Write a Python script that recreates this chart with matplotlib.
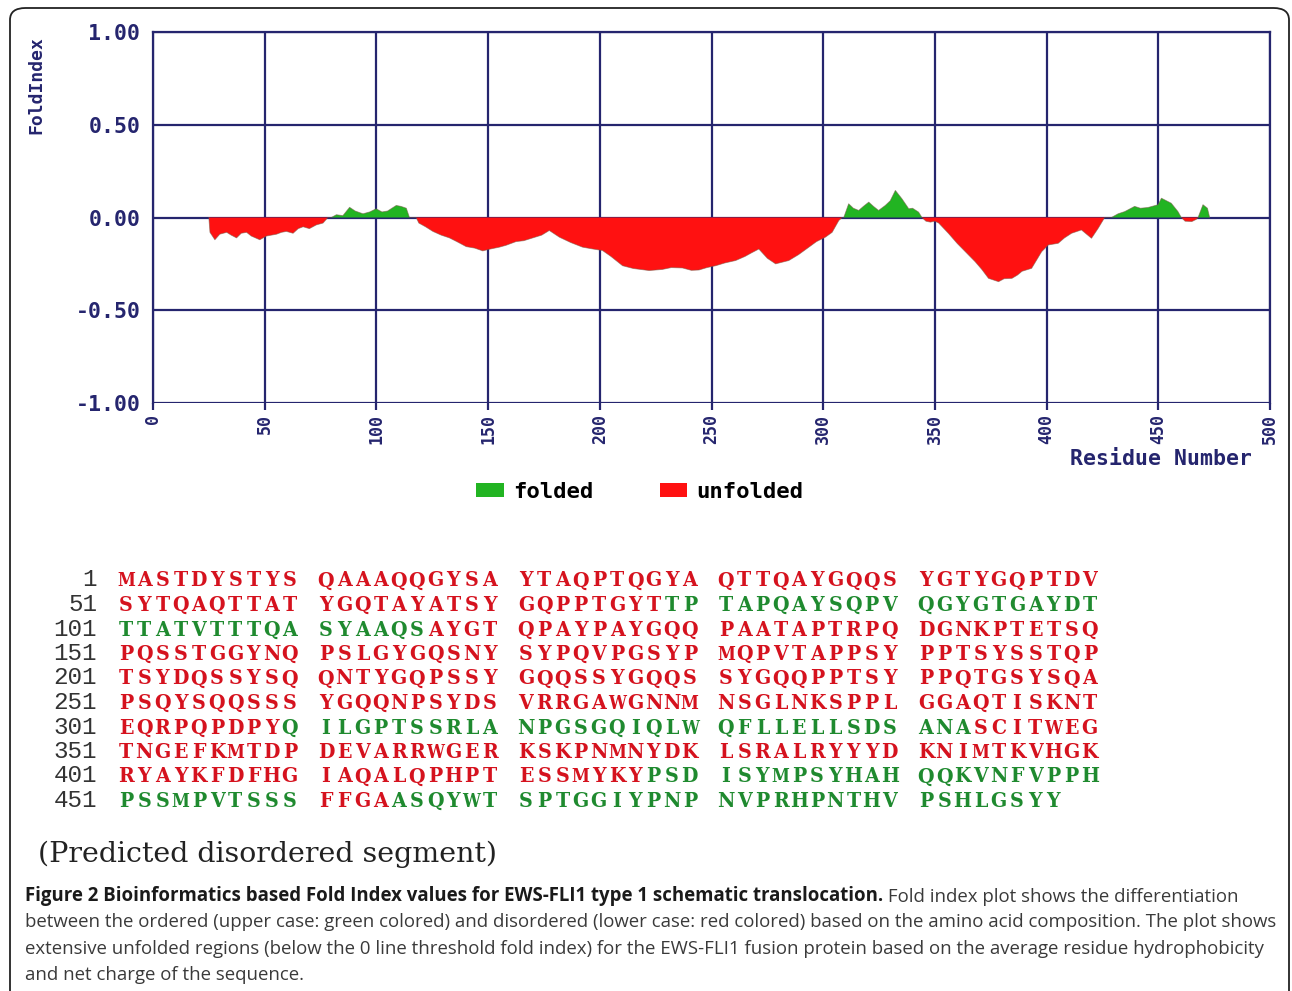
import matplotlib
matplotlib.use('Agg')
import matplotlib.pyplot as plt
from matplotlib.patches import Patch, FancyBboxPatch

W, H = 1292, 991

# --- FoldIndex curve (residue number, fold index) ---
residue = [25, 25.5, 27.7, 29.9, 33, 35, 37.4, 39.5, 41.9, 44, 47.8, 50.8, 53, 55.3, 57.5, 59.7, 62.7, 65, 67.2, 70, 73.1, 76.1, 78.3,
           79.8, 82.1, 85, 88, 90.5, 94, 97, 99.9, 102.5, 105, 108.9, 111, 113.4, 114.8,
           117.8, 119, 122, 125.3, 129, 132.7, 136, 140.2, 144, 147.6, 151, 155, 158, 162.5, 166, 170, 174, 177.4, 181.9, 187,
           192.3, 197, 201.2, 205, 210.2, 215, 222.1, 228, 232, 237, 241, 244.4, 248, 251.9, 256, 260.8, 265, 268, 271.2, 275,
           278.7, 284.6, 289, 293.6, 297, 301, 304, 307, 308.5,
           309.2, 311.4, 313.5, 315.9, 318, 320.4, 322.5, 324.8, 327.8, 330, 332.3, 335.3, 338.3, 340, 342.7, 344.2,
           346, 348, 350, 351.7, 356.1, 360, 363.6, 368, 371, 374, 378.5, 381, 384.5, 387, 389, 393.3, 395.5, 397.8, 400.8, 405.2,
           408, 411.2, 415.6, 420.1, 423.1, 426,
           429, 432, 435, 439.4, 442, 445.4, 449.9, 451.4, 455.8, 458.8, 460.3,
           462, 465, 467, 467.8, 470, 472, 473]
fold_index = [0.0, -0.08, -0.12, -0.09, -0.08, -0.095, -0.11, -0.085, -0.08, -0.10, -0.12, -0.10, -0.095, -0.09, -0.08, -0.075, -0.085, -0.06, -0.05, -0.06, -0.04, -0.03, 0.0,
              0.0, 0.015, 0.01, 0.055, 0.035, 0.02, 0.03, 0.047, 0.03, 0.035, 0.065, 0.06, 0.05, 0.0,
              0.0, -0.03, -0.05, -0.075, -0.095, -0.11, -0.13, -0.157, -0.165, -0.18, -0.17, -0.16, -0.15, -0.13, -0.125, -0.11, -0.095, -0.07, -0.106, -0.135,
              -0.16, -0.17, -0.178, -0.21, -0.26, -0.275, -0.286, -0.28, -0.27, -0.272, -0.285, -0.283, -0.27, -0.26, -0.245, -0.232, -0.21, -0.19, -0.17, -0.22,
              -0.25, -0.232, -0.2, -0.16, -0.13, -0.106, -0.08, -0.016, 0.0,
              0.0, 0.074, 0.05, 0.038, 0.06, 0.083, 0.06, 0.038, 0.065, 0.09, 0.146, 0.10, 0.047, 0.05, 0.029, 0.0,
              -0.02, -0.025, -0.02, -0.03, -0.086, -0.14, -0.184, -0.238, -0.28, -0.328, -0.346, -0.33, -0.328, -0.31, -0.29, -0.274, -0.23, -0.184, -0.148, -0.139,
              -0.11, -0.085, -0.067, -0.112, -0.058, 0.0,
              0.0, 0.02, 0.032, 0.06, 0.05, 0.054, 0.069, 0.104, 0.077, 0.032, 0.0,
              -0.02, -0.022, -0.01, 0.0, 0.069, 0.05, 0.0]

x_ticks = list(range(0, 501, 50))
y_ticks = [1.0, 0.5, 0.0, -0.5, -1.0]
y_tick_labels = ['1.00', '0.50', '0.00', '-0.50', '-1.00']

# --- sequence (EWS-FLI1 type 1), 50 residues per row ---
seq_rows = [
    "MASTDYSTYSQAAAQQGYSAYTAQPTQGYAQTTQAYGQQSYGTYGQPTDV",
    "SYTQAQTTATYGQTAYATSYGQPPTGYTTPTAPQAYSQPVQGYGTGAYDT",
    "TTATVTTTQASYAAQSAYGTQPAYPAYGQQPAATAPTRPQDGNKPTETSQ",
    "PQSSTGGYNQPSLGYGQSNYSYPQVPGSYPMQPVTAPPSYPPTSYSSTQP",
    "TSYDQSSYSQQNTYGQPSSYGQQSSYGQQSSYGQQPPTSYPPQTGSYSQA",
    "PSQYSQQSSSYGQQNPSYDSVRRGAWGNNMNSGLNKSPPLGGAQTISKNT",
    "EQRPQPDPYQILGPTSSRLANPGSGQIQLWQFLLELLSDSANASCITWEG",
    "TNGEFKMTDPDEVARRWGERKSKPNMNYDKLSRALRYYYDKNIMTKVHGK",
    "RYAYKFDFHGIAQALQPHPTESSMYKYPSDISYMPSYHAHQQKVNFVPPH",
    "PSSMPVTSSSFFGAASQYWTSPTGGIYPNPNVPRHPNTHVPSHLGSYY",
]
# ordered (green) stretches, 1-based inclusive
ordered_ranges = [(79, 116), (310, 343), (428, 460), (465, 498)]

caption_bold = "Figure 2 Bioinformatics based Fold Index values for EWS-FLI1 type 1 schematic translocation."
caption_lines = [
    " Fold index plot shows the differentiation",
    "between the ordered (upper case: green colored) and disordered (lower case: red colored) based on the amino acid composition. The plot shows",
    "extensive unfolded regions (below the 0 line threshold fold index) for the EWS-FLI1 fusion protein based on the average residue hydrophobicity",
    "and net charge of the sequence.",
]

navy = '#25256e'
green = '#22b422'
red = '#ff1111'
seq_red = '#d5121e'
seq_green = '#1f8a2f'
mono = 'DejaVu Sans Mono'
# condensed serif; the two widest glyphs a little smaller so they keep to their slot
letter_size = 15.2
wide_sizes = {'M': 13.0, 'W': 12.8}


def fx(x):
    return x / W


def fy(y):
    return 1 - y / H


fig = plt.figure(figsize=(W / 100, H / 100), dpi=100)
fig.patch.set_facecolor('white')

# rounded frame around the whole figure panel
frame = FancyBboxPatch((fx(10), fy(1010)), fx(1279), (1010 - 8) / H,
                       boxstyle='round,pad=0,rounding_size=0.012',
                       transform=fig.transFigure, fill=False,
                       edgecolor='#222222', lw=1.3)
fig.patches.append(frame)

# --- the FoldIndex plot ---
ax = fig.add_axes([fx(153), fy(403), (1270 - 153) / W, (403 - 32) / H])
ax.set_xlim(0, 500)
ax.set_ylim(-1, 1)

ax.fill_between(residue, fold_index, 0, where=[v >= 0 for v in fold_index],
                interpolate=True, color=green, lw=0, zorder=2)
ax.fill_between(residue, fold_index, 0, where=[v <= 0 for v in fold_index],
                interpolate=True, color=red, lw=0, zorder=2)
ax.plot(residue, fold_index, color='#7a5a48', lw=0.6, alpha=0.6, zorder=3)

ax.set_xticks(x_ticks)
ax.set_yticks(y_ticks)
ax.set_yticklabels(y_tick_labels)
ax.grid(True, color=navy, lw=1.6)
for s in ['left', 'top', 'right']:
    ax.spines[s].set_color(navy)
    ax.spines[s].set_linewidth(1.6)
ax.spines['bottom'].set_visible(False)

ax.tick_params(axis='y', length=0, pad=9, labelcolor=navy)
ax.tick_params(axis='x', direction='out', length=5, width=1.6, color=navy,
               pad=3, labelrotation=90, labelcolor=navy)
for lab in ax.get_yticklabels():
    lab.set_fontfamily(mono)
    lab.set_fontweight('bold')
    lab.set_fontsize(15.5)
for lab in ax.get_xticklabels():
    lab.set_fontfamily(mono)
    lab.set_fontweight('bold')
    lab.set_fontsize(12)

ax.set_xlabel('Residue Number', loc='right', family=mono, weight='bold',
              fontsize=15.5, color=navy)
ax.xaxis.set_label_coords((1252 - 153) / (1270 - 153), -0.125)
ax.set_ylabel('FoldIndex', loc='top', family=mono, weight='bold',
              fontsize=13, color=navy)
ax.yaxis.set_label_coords(-0.096, 0.99)

handles = [Patch(facecolor=green, label='folded'),
           Patch(facecolor=red, label='unfolded')]
fig.legend(handles=handles, loc='center left', bbox_to_anchor=(fx(476), fy(492)),
           ncol=2, frameon=False, borderpad=0, borderaxespad=0,
           handlelength=1.25, handleheight=0.62, handletextpad=0.4,
           columnspacing=3.0,
           prop={'family': mono, 'weight': 'bold', 'size': 16})

# --- sequence block ---
def is_ordered(n):
    return any(a <= n <= b for a, b in ordered_ranges)


for r, row in enumerate(seq_rows):
    base = 579 + 24.5 * r + 7.5
    fig.text(fx(97), fy(base), str(1 + 50 * r), ha='right', va='baseline',
             family='Liberation Mono', fontsize=17.5, color='#333333')
    for k, ch in enumerate(row):
        n = 50 * r + k + 1
        x = 126 + (k // 10) * 200 + (k % 10) * 18.2
        fig.text(fx(x), fy(base), ch, ha='center', va='baseline',
                 family='DejaVu Serif', weight='bold', stretch='condensed',
                 fontsize=wide_sizes.get(ch, letter_size),
                 color=seq_green if is_ordered(n) else seq_red)

fig.text(fx(38), fy(862), '(Predicted disordered segment)', ha='left',
         va='baseline', family='DejaVu Serif', fontsize=20.5, color='#222222')

# --- caption ---
cap_font = 'Open Sans'
cap_size = 13.4
t_bold = fig.text(fx(25), fy(901), caption_bold, ha='left', va='baseline',
                  family=cap_font, weight='bold', fontsize=cap_size, color='#1a1a1a')
fig.add_artist(plt.Annotation(caption_lines[0], xy=(1, 0), xycoords=t_bold,
                              ha='left', va='bottom', family=cap_font,
                              fontsize=cap_size, color='#3a3a3a'))
for i, line in enumerate(caption_lines[1:]):
    fig.text(fx(25), fy(901 + 26.3 * (i + 1)), line, ha='left', va='baseline',
             family=cap_font, fontsize=cap_size, color='#3a3a3a')

fig.savefig('out.png', dpi=100)
